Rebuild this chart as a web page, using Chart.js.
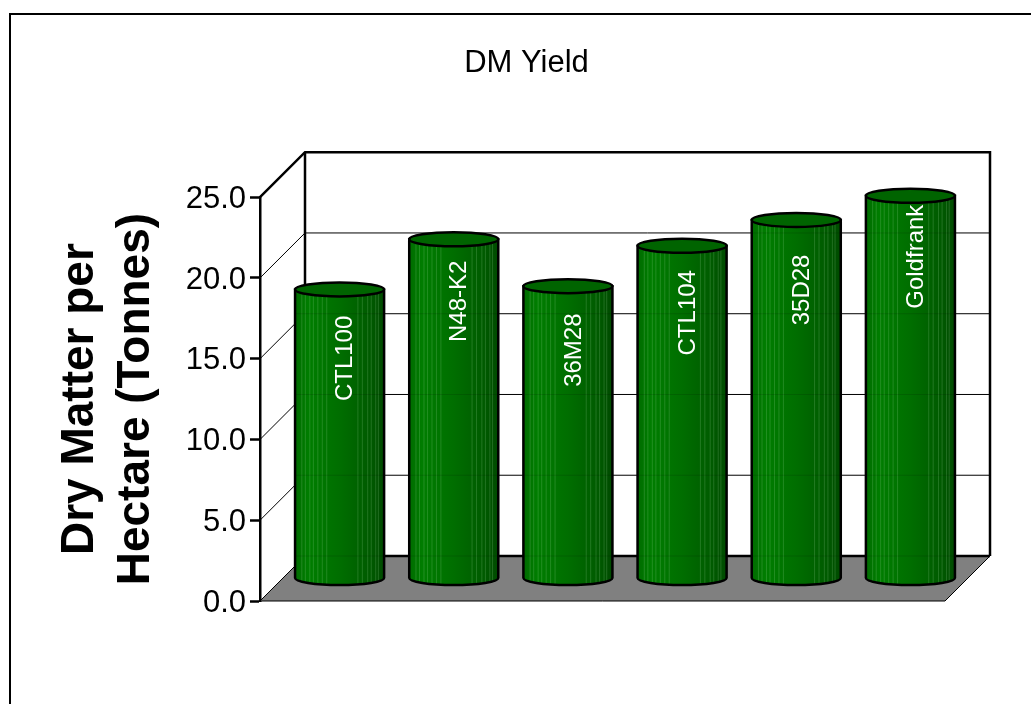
<!DOCTYPE html>
<html>
<head>
<meta charset="utf-8">
<title>DM Yield</title>
<script src="https://cdn.jsdelivr.net/npm/chart.js@4"></script>
<style>
	html, body { margin: 0; padding: 0; background: #fff; overflow: hidden; }
	canvas { display: block; }
</style>
</head>
<body>
<canvas id="yieldChart" width="1031" height="704"></canvas>
<script>
const categories = ['CTL100', 'N48-K2', '36M28', 'CTL104', '35D28', 'Goldfrank'];
const dmYield = [17.9, 21.0, 18.1, 20.6, 22.2, 23.7];

const FONT = "'Liberation Sans', Arial, sans-serif";

// Fake 3D settings
const depthX = 45;
const depthY = 45;
const labelDrop = [69, 62, 64, 67, 70, 61];
const stripes = [.07, .11, .16, .2, .25, .3, .35, .7, .75, .81, .85, .9, .93];

function line(ctx, points, width) {
	ctx.beginPath();
	points.forEach((p, i) => i ? ctx.lineTo(p[0], p[1]) : ctx.moveTo(p[0], p[1]));
	ctx.lineWidth = width;
	ctx.strokeStyle = '#000';
	ctx.stroke();
}

// Page frame, back walls and floor
const frame3d = {
	id: 'frame3d',
	afterLayout(chart) {
		// title sits left of the plot centre
		chart.titleBlock.left += 44;
		chart.titleBlock.right += 44;
	},
	beforeDraw(chart) {
		line(chart.ctx, [[10, 704], [10, 14], [1031, 14]], 2);
	},
	beforeDatasetsDraw(chart) {
		const ctx = chart.ctx;
		const { left, right, top, bottom } = chart.chartArea;
		const y = chart.scales.y;

		ctx.save();
		ctx.beginPath();
		ctx.moveTo(left, bottom);
		ctx.lineTo(left + depthX, bottom - depthY);
		ctx.lineTo(right + depthX, bottom - depthY);
		ctx.lineTo(right, bottom);
		ctx.closePath();
		ctx.fillStyle = '#808080';
		ctx.fill();
		ctx.lineWidth = 1;
		ctx.strokeStyle = '#000';
		ctx.stroke();

		y.ticks.forEach(t => {
			if (t.value === 0 || t.value === y.max) return;
			const py = y.getPixelForValue(t.value);
			line(ctx, [[left, py], [left + depthX, py - depthY], [right + depthX, py - depthY]], 1);
		});

		line(ctx, [[left, top], [left + depthX, top - depthY], [right + depthX, top - depthY], [right + depthX, bottom - depthY]], 2.5);
		line(ctx, [[left + depthX, top - depthY], [left + depthX, bottom - depthY], [right + depthX, bottom - depthY]], 2.5);
		ctx.restore();
	}
};

// Draws each bar element as a striped cylinder standing mid-depth
const cylinders = {
	id: 'cylinders',
	afterDatasetsDraw(chart) {
		const ctx = chart.ctx;
		const y = chart.scales.y;
		const bars = chart.getDatasetMeta(0).data;

		bars.forEach((bar, i) => {
			const w = bar.width;
			const x0 = bar.x - w / 2 + depthX / 2;
			const x1 = x0 + w;
			const cx = (x0 + x1) / 2;
			const yTop = bar.y - depthY / 2;
			const yBot = bar.base - depthY / 2;
			const ry = 7;

			ctx.save();
			ctx.beginPath();
			ctx.moveTo(x0, yTop);
			ctx.lineTo(x0, yBot);
			ctx.ellipse(cx, yBot, w / 2, ry, 0, Math.PI, 0, true);
			ctx.lineTo(x1, yTop);
			ctx.closePath();

			const g = ctx.createLinearGradient(x0, 0, x1, 0);
			g.addColorStop(0, '#006c00');
			g.addColorStop(.15, '#007d00');
			g.addColorStop(.5, '#006e00');
			g.addColorStop(.85, '#005a00');
			g.addColorStop(1, '#004a00');
			ctx.fillStyle = g;
			ctx.fill();

			ctx.save();
			ctx.clip();
			ctx.fillStyle = 'rgba(170, 225, 170, 0.2)';
			stripes.forEach(s => ctx.fillRect(x0 + s * w, yTop, 1, yBot - yTop + ry));
			// back grid shows faintly through the bar
			ctx.fillStyle = 'rgba(0, 0, 0, 0.13)';
			y.ticks.forEach(t => {
				ctx.fillRect(x0, y.getPixelForValue(t.value) - depthY - .5, w, 1);
			});
			ctx.restore();

			ctx.lineWidth = 2.5;
			ctx.strokeStyle = '#000';
			ctx.stroke();

			// category name, rotated
			ctx.save();
			ctx.translate(cx + 6, yTop + labelDrop[i]);
			ctx.rotate(-Math.PI / 2);
			ctx.fillStyle = '#fff';
			ctx.font = '24px ' + FONT;
			ctx.textAlign = 'center';
			ctx.textBaseline = 'middle';
			ctx.fillText(categories[i], 0, 0);
			ctx.restore();

			ctx.beginPath();
			ctx.ellipse(cx, yTop, w / 2, ry, 0, 0, Math.PI * 2);
			ctx.fillStyle = '#006400';
			ctx.fill();
			ctx.stroke();
			ctx.restore();
		});
	}
};

new Chart(document.getElementById('yieldChart'), {
	type: 'bar',
	data: {
		labels: categories,
		datasets: [{
			data: dmYield,
			backgroundColor: 'transparent',
			borderWidth: 0,
			barPercentage: 0.78,
			categoryPercentage: 1
		}]
	},
	options: {
		responsive: false,
		animation: false,
		devicePixelRatio: 1,
		layout: { padding: { left: 20, right: 86, top: 44, bottom: 103 } },
		plugins: {
			legend: { display: false },
			tooltip: { enabled: false },
			title: {
				display: true,
				text: 'DM Yield',
				color: '#000',
				font: { family: FONT, size: 31, weight: 'normal', lineHeight: 1.2 },
				padding: { top: 1, bottom: 115 }
			}
		},
		scales: {
			x: { display: false },
			y: {
				min: 0,
				max: 25,
				afterFit(scale) { scale.width = 240; },
				title: {
					display: true,
					text: ['Dry Matter per', 'Hectare (Tonnes)'],
					color: '#000',
					font: { family: FONT, size: 46, weight: 'bold', lineHeight: 1.22 },
					padding: { top: 32, bottom: 0 }
				},
				ticks: {
					stepSize: 5,
					color: '#000',
					padding: 4,
					labelOffset: 2,
					font: { family: FONT, size: 31 },
					callback: v => v.toFixed(1)
				},
				grid: { drawOnChartArea: false, tickLength: 10, tickWidth: 2.5, tickColor: '#000' },
				border: { color: '#000', width: 2.5 }
			}
		}
	},
	plugins: [frame3d, cylinders]
});
</script>
</body>
</html>
